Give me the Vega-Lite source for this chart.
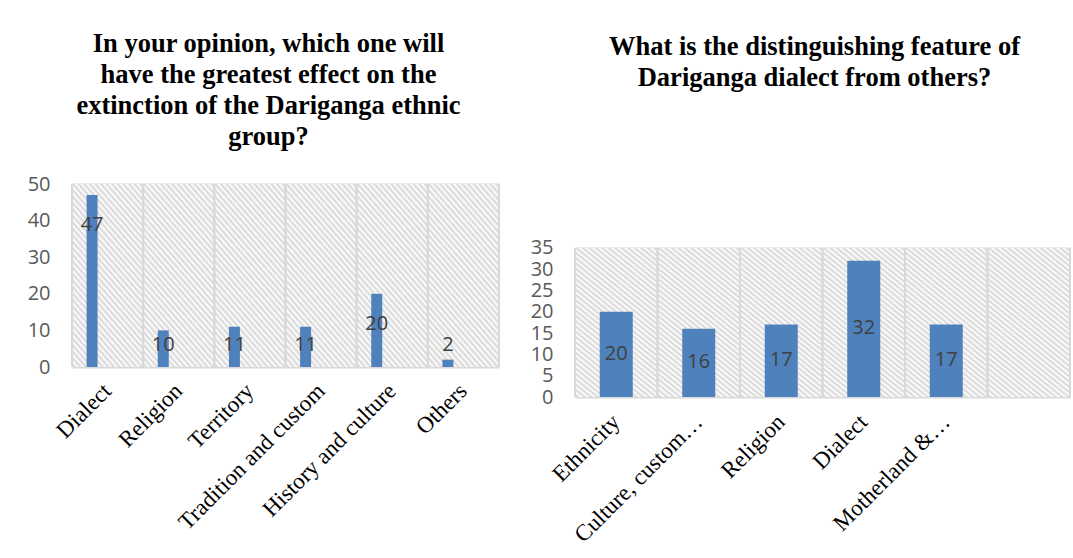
{
  "$schema": "https://vega.github.io/schema/vega-lite/v6.json",
  "padding": {"left": 27, "top": 30, "right": 0, "bottom": 0},
  "config": {
    "view": {"stroke": null, "fill": null},
    "bar": {
      "fill": {
        "gradient": "linear", "x1": 0, "y1": 1, "x2": 1.1, "y2": -1.45,
        "stops": [
          {"offset":0,"color":"#fff"},{"offset":0.006,"color":"#d6d6d6"},{"offset":0.012,"color":"#fff"},{"offset":0.018,"color":"#d6d6d6"},{"offset":0.024,"color":"#fff"},{"offset":0.03,"color":"#d6d6d6"},{"offset":0.036,"color":"#fff"},{"offset":0.042,"color":"#d6d6d6"},{"offset":0.048,"color":"#fff"},{"offset":0.054,"color":"#d6d6d6"},
          {"offset":0.06,"color":"#fff"},{"offset":0.066,"color":"#d6d6d6"},{"offset":0.072,"color":"#fff"},{"offset":0.078,"color":"#d6d6d6"},{"offset":0.084,"color":"#fff"},{"offset":0.09,"color":"#d6d6d6"},{"offset":0.096,"color":"#fff"},{"offset":0.102,"color":"#d6d6d6"},{"offset":0.108,"color":"#fff"},{"offset":0.114,"color":"#d6d6d6"},
          {"offset":0.12,"color":"#fff"},{"offset":0.126,"color":"#d6d6d6"},{"offset":0.132,"color":"#fff"},{"offset":0.138,"color":"#d6d6d6"},{"offset":0.144,"color":"#fff"},{"offset":0.15,"color":"#d6d6d6"},{"offset":0.156,"color":"#fff"},{"offset":0.162,"color":"#d6d6d6"},{"offset":0.168,"color":"#fff"},{"offset":0.174,"color":"#d6d6d6"},
          {"offset":0.18,"color":"#fff"},{"offset":0.186,"color":"#d6d6d6"},{"offset":0.192,"color":"#fff"},{"offset":0.198,"color":"#d6d6d6"},{"offset":0.204,"color":"#fff"},{"offset":0.21,"color":"#d6d6d6"},{"offset":0.216,"color":"#fff"},{"offset":0.222,"color":"#d6d6d6"},{"offset":0.228,"color":"#fff"},{"offset":0.234,"color":"#d6d6d6"},
          {"offset":0.24,"color":"#fff"},{"offset":0.246,"color":"#d6d6d6"},{"offset":0.252,"color":"#fff"},{"offset":0.258,"color":"#d6d6d6"},{"offset":0.264,"color":"#fff"},{"offset":0.27,"color":"#d6d6d6"},{"offset":0.276,"color":"#fff"},{"offset":0.282,"color":"#d6d6d6"},{"offset":0.288,"color":"#fff"},{"offset":0.294,"color":"#d6d6d6"},
          {"offset":0.3,"color":"#fff"},{"offset":0.306,"color":"#d6d6d6"},{"offset":0.312,"color":"#fff"},{"offset":0.318,"color":"#d6d6d6"},{"offset":0.324,"color":"#fff"},{"offset":0.33,"color":"#d6d6d6"},{"offset":0.336,"color":"#fff"},{"offset":0.342,"color":"#d6d6d6"},{"offset":0.348,"color":"#fff"},{"offset":0.354,"color":"#d6d6d6"},
          {"offset":0.36,"color":"#fff"},{"offset":0.366,"color":"#d6d6d6"},{"offset":0.372,"color":"#fff"},{"offset":0.378,"color":"#d6d6d6"},{"offset":0.384,"color":"#fff"},{"offset":0.39,"color":"#d6d6d6"},{"offset":0.396,"color":"#fff"},{"offset":0.402,"color":"#d6d6d6"},{"offset":0.408,"color":"#fff"},{"offset":0.414,"color":"#d6d6d6"},
          {"offset":0.42,"color":"#fff"},{"offset":0.426,"color":"#d6d6d6"},{"offset":0.432,"color":"#fff"},{"offset":0.438,"color":"#d6d6d6"},{"offset":0.444,"color":"#fff"},{"offset":0.45,"color":"#d6d6d6"},{"offset":0.456,"color":"#fff"},{"offset":0.462,"color":"#d6d6d6"},{"offset":0.468,"color":"#fff"},{"offset":0.474,"color":"#d6d6d6"},
          {"offset":0.48,"color":"#fff"},{"offset":0.486,"color":"#d6d6d6"},{"offset":0.492,"color":"#fff"},{"offset":0.498,"color":"#d6d6d6"},{"offset":0.504,"color":"#fff"},{"offset":0.51,"color":"#d6d6d6"},{"offset":0.516,"color":"#fff"},{"offset":0.522,"color":"#d6d6d6"},{"offset":0.528,"color":"#fff"},{"offset":0.534,"color":"#d6d6d6"},
          {"offset":0.54,"color":"#fff"},{"offset":0.546,"color":"#d6d6d6"},{"offset":0.552,"color":"#fff"},{"offset":0.558,"color":"#d6d6d6"},{"offset":0.564,"color":"#fff"},{"offset":0.57,"color":"#d6d6d6"},{"offset":0.576,"color":"#fff"},{"offset":0.582,"color":"#d6d6d6"},{"offset":0.588,"color":"#fff"},{"offset":0.594,"color":"#d6d6d6"},
          {"offset":0.6,"color":"#fff"},{"offset":0.606,"color":"#d6d6d6"},{"offset":0.612,"color":"#fff"},{"offset":0.618,"color":"#d6d6d6"},{"offset":0.624,"color":"#fff"},{"offset":0.63,"color":"#d6d6d6"},{"offset":0.636,"color":"#fff"},{"offset":0.642,"color":"#d6d6d6"},{"offset":0.648,"color":"#fff"},{"offset":0.654,"color":"#d6d6d6"},
          {"offset":0.66,"color":"#fff"},{"offset":0.666,"color":"#d6d6d6"},{"offset":0.672,"color":"#fff"},{"offset":0.678,"color":"#d6d6d6"},{"offset":0.684,"color":"#fff"},{"offset":0.69,"color":"#d6d6d6"},{"offset":0.696,"color":"#fff"},{"offset":0.702,"color":"#d6d6d6"},{"offset":0.708,"color":"#fff"},{"offset":0.714,"color":"#d6d6d6"},
          {"offset":0.72,"color":"#fff"},{"offset":0.726,"color":"#d6d6d6"},{"offset":0.732,"color":"#fff"},{"offset":0.738,"color":"#d6d6d6"},{"offset":0.744,"color":"#fff"},{"offset":0.75,"color":"#d6d6d6"},{"offset":0.756,"color":"#fff"},{"offset":0.762,"color":"#d6d6d6"},{"offset":0.768,"color":"#fff"},{"offset":0.774,"color":"#d6d6d6"},
          {"offset":0.78,"color":"#fff"},{"offset":0.786,"color":"#d6d6d6"},{"offset":0.792,"color":"#fff"},{"offset":0.798,"color":"#d6d6d6"},{"offset":0.804,"color":"#fff"},{"offset":0.81,"color":"#d6d6d6"},{"offset":0.816,"color":"#fff"},{"offset":0.822,"color":"#d6d6d6"},{"offset":0.828,"color":"#fff"},{"offset":0.834,"color":"#d6d6d6"},
          {"offset":0.84,"color":"#fff"},{"offset":0.846,"color":"#d6d6d6"},{"offset":0.852,"color":"#fff"},{"offset":0.858,"color":"#d6d6d6"},{"offset":0.864,"color":"#fff"},{"offset":0.87,"color":"#d6d6d6"},{"offset":0.876,"color":"#fff"},{"offset":0.882,"color":"#d6d6d6"},{"offset":0.888,"color":"#fff"},{"offset":0.894,"color":"#d6d6d6"},
          {"offset":0.9,"color":"#fff"},{"offset":0.906,"color":"#d6d6d6"},{"offset":0.912,"color":"#fff"},{"offset":0.918,"color":"#d6d6d6"},{"offset":0.924,"color":"#fff"},{"offset":0.93,"color":"#d6d6d6"},{"offset":0.936,"color":"#fff"},{"offset":0.942,"color":"#d6d6d6"},{"offset":0.948,"color":"#fff"},{"offset":0.954,"color":"#d6d6d6"},
          {"offset":0.96,"color":"#fff"},{"offset":0.966,"color":"#d6d6d6"},{"offset":0.972,"color":"#fff"},{"offset":0.978,"color":"#d6d6d6"},{"offset":0.984,"color":"#fff"},{"offset":0.99,"color":"#d6d6d6"},{"offset":0.996,"color":"#fff"},{"offset":1,"color":"#fff"}
        ]
      }
    },
    "axis": {
      "gridColor": "#d9d9d9",
      "gridWidth": 2,
      "domain": false,
      "ticks": false,
      "title": null,
      "labelFont": "Open Sans",
      "labelFontSize": 20,
      "labelColor": "#595959",
      "labelOverlap": false
    },
    "title": {
      "font": "Liberation Serif",
      "fontSize": 26.5,
      "fontWeight": "bold",
      "color": "#000000",
      "lineHeight": 31,
      "anchor": "middle"
    },
    "concat": {"spacing": 29}
  },
  "hconcat": [
    {
      "title": {
        "text": ["In your opinion, which one will", "have the greatest effect on the", "extinction of the Dariganga ethnic", "group?"],
        "offset": 24,
        "dx": -17
      },
      "width": 427,
      "height": 183,
      "data": {
        "values": [
          {"category": "Dialect", "value": 47},
          {"category": "Religion", "value": 10},
          {"category": "Territory", "value": 11},
          {"category": "Tradition and custom", "value": 11},
          {"category": "History and culture", "value": 20},
          {"category": "Others", "value": 2}
        ]
      },
      "encoding": {
        "x": {
          "field": "category",
          "type": "nominal",
          "sort": null,
          "scale": {"paddingInner": 0, "paddingOuter": 0},
          "axis": {
            "labelAngle": -45,
            "labelAlign": "right",
            "labelBaseline": "middle",
            "labelFont": "Liberation Serif",
            "labelFontSize": 23,
            "labelColor": "#000000",
            "labelPadding": 20,
            "labelLimit": 400,
            "grid": false
          }
        }
      },
      "layer": [
        {
          "mark": {"type": "bar", "width": {"band": 1}},
          "encoding": {
            "y": {"datum": 50, "type": "quantitative", "scale": {"domain": [0, 50]}, "axis": {"values": [0, 10, 20, 30, 40, 50], "labelPadding": 22, "grid": true, "labelOverlap": false}},
            "y2": {"datum": 0}
          }
        },
        {
          "mark": {"type": "rule", "color": "#d9d9d9", "strokeWidth": 2, "xOffset": 35.6},
          "encoding": {
            "y": {"datum": 50, "type": "quantitative", "axis": {"values": [0, 10, 20, 30, 40, 50], "labelPadding": 22, "grid": true, "labelOverlap": false}},
            "y2": {"datum": 0}
          }
        },
        {
          "mark": {"type": "rule", "color": "#d9d9d9", "strokeWidth": 2, "xOffset": -35.6},
          "encoding": {
            "y": {"datum": 50, "type": "quantitative", "axis": {"values": [0, 10, 20, 30, 40, 50], "labelPadding": 22, "grid": true, "labelOverlap": false}},
            "y2": {"datum": 0}
          }
        },
        {
          "mark": {"type": "bar", "fill": "#4f81bd", "width": 11, "xOffset": -15.5},
          "encoding": {
            "y": {"field": "value", "type": "quantitative", "axis": {"values": [0, 10, 20, 30, 40, 50], "labelPadding": 22, "grid": true, "labelOverlap": false}}
          }
        },
        {
          "transform": [{"filter": "datum.value >= 15"}],
          "mark": {"type": "text", "font": "Open Sans", "fontSize": 20, "color": "#404040", "dy": 30, "xOffset": -15.5},
          "encoding": {
            "y": {"field": "value", "type": "quantitative", "axis": {"values": [0, 10, 20, 30, 40, 50], "labelPadding": 22, "grid": true, "labelOverlap": false}},
            "text": {"field": "value", "type": "quantitative"}
          }
        },
        {
          "transform": [{"filter": "datum.value < 15"}],
          "mark": {"type": "text", "font": "Open Sans", "fontSize": 20, "color": "#404040", "xOffset": -15.5},
          "encoding": {
            "y": {"datum": 6, "type": "quantitative", "axis": {"values": [0, 10, 20, 30, 40, 50], "labelPadding": 22, "grid": true, "labelOverlap": false}},
            "text": {"field": "value", "type": "quantitative"}
          }
        }
      ]
    },
    {
      "title": {
        "text": ["What is the distinguishing feature of", "Dariganga dialect from others?"],
        "offset": 93,
        "dx": -8
      },
      "width": 495,
      "height": 213,
      "data": {
        "values": [
          {"category": "Ethnicity", "value": 20},
          {"category": "Culture, custom…", "value": 16},
          {"category": "Religion", "value": 17},
          {"category": "Dialect", "value": 32},
          {"category": "Motherland &…", "value": 17},
          {"category": " ", "value": null}
        ]
      },
      "encoding": {
        "x": {
          "field": "category",
          "type": "nominal",
          "sort": null,
          "scale": {"paddingInner": 0, "paddingOuter": 0},
          "axis": {
            "labelAngle": -45,
            "labelAlign": "right",
            "labelBaseline": "middle",
            "labelFont": "Liberation Serif",
            "labelFontSize": 23,
            "labelColor": "#000000",
            "labelPadding": 21,
            "labelLimit": 400,
            "grid": false
          }
        }
      },
      "layer": [
        {
          "layer": [
            {
              "mark": {"type": "bar", "width": {"band": 1}},
              "encoding": {
                "y": {"datum": 35, "type": "quantitative", "scale": {"domain": [0, 46.3]}, "axis": {"values": [0, 5, 10, 15, 20, 25, 30, 35], "labelPadding": 22, "grid": true, "labelOverlap": false}},
                "y2": {"datum": 0}
              }
            },
            {
              "mark": {"type": "rule", "color": "#d9d9d9", "strokeWidth": 2, "xOffset": 41.25},
              "encoding": {
                "y": {"datum": 35, "type": "quantitative", "axis": {"values": [0, 5, 10, 15, 20, 25, 30, 35], "labelPadding": 22, "grid": true, "labelOverlap": false}},
                "y2": {"datum": 0}
              }
            },
            {
              "mark": {"type": "rule", "color": "#d9d9d9", "strokeWidth": 2, "xOffset": -41.25},
              "encoding": {
                "y": {"datum": 35, "type": "quantitative", "axis": {"values": [0, 5, 10, 15, 20, 25, 30, 35], "labelPadding": 22, "grid": true, "labelOverlap": false}},
                "y2": {"datum": 0}
              }
            },
            {
              "transform": [{"filter": "isValid(datum.value)"}],
              "mark": {"type": "bar", "fill": "#4f81bd", "width": 33},
              "encoding": {
                "y": {"field": "value", "type": "quantitative", "axis": {"values": [0, 5, 10, 15, 20, 25, 30, 35], "labelPadding": 22, "grid": true, "labelOverlap": false}}
              }
            }
          ]
        },
        {
          "transform": [{"filter": "isValid(datum.value)"}],
          "mark": {"type": "text", "font": "Open Sans", "fontSize": 20, "color": "#404040"},
          "encoding": {
            "y": {"field": "value", "type": "quantitative", "scale": {"domain": [0, 98.5]}, "axis": null},
            "text": {"field": "value", "type": "quantitative"}
          }
        }
      ],
      "resolve": {"scale": {"y": "independent"}}
    }
  ]
}
